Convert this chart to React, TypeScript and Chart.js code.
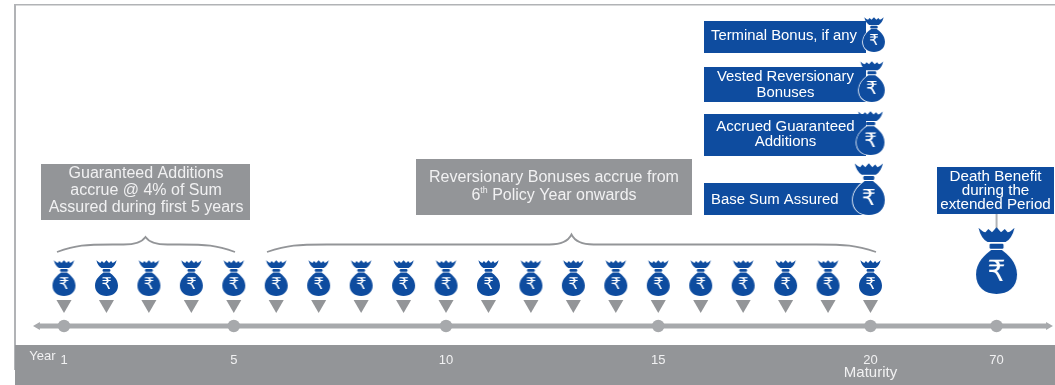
import React, { useEffect, useRef } from "react";
import { Chart, registerables } from "chart.js";

Chart.register(...registerables);

// ---- Plan data ----
const bagYears = [1, 2, 3, 4, 5, 6, 7, 8, 9, 10, 11, 12, 13, 14, 15, 16, 17, 18, 19, 20];
const markedYears = [1, 5, 10, 15, 20, 70];
// Year 70 sits on a broken stretch of the axis, just past the last policy year.
const extendedSlot = 22.97;
const slotOfYear = (year: number) => (year === 70 ? extendedSlot : year);

const guaranteedNote = ["Guaranteed Additions", "accrue @ 4% of Sum", "Assured during first 5 years"];
const reversionaryNote = ["Reversionary Bonuses accrue from", "6^th Policy Year onwards"];
const terminalNote = ["Terminal Bonus, if any"];
const vestedNote = ["Vested Reversionary", "Bonuses"];
const accruedNote = ["Accrued Guaranteed", "Additions"];
const baseNote = ["Base Sum Assured"];
const deathNote = ["Death Benefit", "during the", "extended Period"];
const yearCaption = ["Year"];
const maturityCaption = ["Maturity"];

// ---- Palette and fonts ----
const BLUE = "#0e4c9f";
const GREY = "#939598";
const LIGHT = "#a7a9ac";
const PALE = "#f1f1f2";
const FAMILY = '"Liberation Sans", Arial, sans-serif';

// ---- Scale set-up: one x unit is one policy year ----
const YEAR_STEP = 42.447;
const X_MIN = 1 - 64 / YEAR_STEP;
const X_MAX = X_MIN + 1055 / YEAR_STEP;

// Money bag sprite used as a point style.
function makeBag(width: number, height: number, outlined: boolean, glyphScale = 0.7) {
  const pad = 2;
  const c = document.createElement("canvas");
  c.width = width + pad * 2;
  c.height = height + pad * 2;
  const g = c.getContext("2d")!;
  const X = (u: number) => pad + u * width;
  const Y = (v: number) => pad + v * height;

  const body = new Path2D();
  body.moveTo(X(0.37), Y(0.345));
  body.lineTo(X(0.63), Y(0.345));
  body.bezierCurveTo(X(0.76), Y(0.41), X(1), Y(0.52), X(1), Y(0.71));
  body.bezierCurveTo(X(1), Y(0.9), X(0.78), Y(1), X(0.5), Y(1));
  body.bezierCurveTo(X(0.22), Y(1), X(0), Y(0.9), X(0), Y(0.71));
  body.bezierCurveTo(X(0), Y(0.52), X(0.24), Y(0.41), X(0.37), Y(0.345));
  body.closePath();

  g.fillStyle = BLUE;
  if (outlined) {
    g.strokeStyle = "#ffffff";
    g.lineWidth = 1.6;
    g.stroke(body);
  }
  g.fill(body);

  // Crown knot above the bag
  g.beginPath();
  g.moveTo(X(0.06), Y(0.01));
  g.quadraticCurveTo(X(0.16), Y(0.07), X(0.23), Y(0.08));
  g.lineTo(X(0.3), Y(0.03));
  g.lineTo(X(0.39), Y(0.08));
  g.lineTo(X(0.5), Y(0.005));
  g.lineTo(X(0.61), Y(0.08));
  g.lineTo(X(0.7), Y(0.03));
  g.lineTo(X(0.77), Y(0.08));
  g.quadraticCurveTo(X(0.84), Y(0.07), X(0.94), Y(0.01));
  g.quadraticCurveTo(X(0.88), Y(0.17), X(0.72), Y(0.225));
  g.lineTo(X(0.28), Y(0.225));
  g.quadraticCurveTo(X(0.12), Y(0.17), X(0.06), Y(0.01));
  g.closePath();
  g.fill();

  // Tie around the neck
  g.beginPath();
  g.roundRect(X(0.33), Y(0.25), 0.34 * width, Math.max(2.4, 0.075 * height), 1.2);
  g.fill();

  g.fillStyle = "#ffffff";
  g.font = `${Math.round(width * glyphScale)}px "DejaVu Sans"`;
  g.textAlign = "center";
  g.textBaseline = "middle";
  g.fillText("\u20B9", X(0.5), Y(0.69));
  return c;
}

type Box = { l: number; t: number; r: number; b: number; fill: string };
const boxes: Box[] = [
  { l: 41, t: 164, r: 250, b: 220, fill: GREY },
  { l: 416, t: 159, r: 692, b: 215, fill: GREY },
  { l: 704, t: 21, r: 866, b: 53, fill: BLUE },
  { l: 704, t: 67, r: 866, b: 102, fill: BLUE },
  { l: 704, t: 114, r: 866, b: 156, fill: BLUE },
  { l: 704, t: 183, r: 866, b: 215, fill: BLUE },
  { l: 937, t: 167, r: 1054, b: 214, fill: BLUE },
];

type Caption = { lines: string[]; x: number; ys: number[]; color: string; size: number; align: CanvasTextAlign };
const captions: Caption[] = [
  { lines: guaranteedNote, x: 146, ys: [173.5, 190.5, 207.5], color: PALE, size: 16, align: "center" },
  { lines: reversionaryNote, x: 554, ys: [178, 196], color: PALE, size: 16, align: "center" },
  { lines: terminalNote, x: 711, ys: [36], color: "#fff", size: 14.85, align: "left" },
  { lines: vestedNote, x: 785.5, ys: [77, 93], color: "#fff", size: 14.85, align: "center" },
  { lines: accruedNote, x: 785.5, ys: [127, 142], color: "#fff", size: 15, align: "center" },
  { lines: baseNote, x: 711, ys: [200], color: "#fff", size: 14.9, align: "left" },
  { lines: deathNote, x: 995.5, ys: [177, 191, 205], color: "#fff", size: 15.2, align: "center" },
  { lines: yearCaption, x: 42.5, ys: [356.5], color: PALE, size: 13, align: "center" },
  { lines: maturityCaption, x: 870.5, ys: [373], color: PALE, size: 15, align: "center" },
];

// Writes a line, raising any ^-marked suffix as a superscript.
function writeLine(ctx: CanvasRenderingContext2D, text: string, cap: Caption, y: number) {
  const font = `${cap.size}px ${FAMILY}`;
  const smallFont = `${cap.size * 0.55}px ${FAMILY}`;
  const m = text.match(/^(.*?)\^(\w+)(.*)$/);
  if (!m) {
    ctx.font = font;
    ctx.textAlign = cap.align;
    ctx.fillText(text, cap.x, y);
    return;
  }
  ctx.font = font;
  const a = ctx.measureText(m[1]).width;
  const c = ctx.measureText(m[3]).width;
  ctx.font = smallFont;
  const b = ctx.measureText(m[2]).width;
  let x = cap.x - (a + b + c) / 2;
  ctx.textAlign = "left";
  ctx.font = font;
  ctx.fillText(m[1], x, y);
  x += a;
  ctx.font = smallFont;
  ctx.fillText(m[2], x, y - cap.size * 0.32);
  x += b;
  ctx.font = font;
  ctx.fillText(m[3], x, y);
}

// Curly brace spanning two points on the x axis, peak above the middle.
function brace(ctx: CanvasRenderingContext2D, x0: number, x1: number, peakX: number, foot: number, shoulder: number, peak: number) {
  const bend = Math.min(60, (x1 - x0) / 3.2);
  ctx.beginPath();
  ctx.moveTo(x0, foot);
  ctx.bezierCurveTo(x0 + bend * 0.35, shoulder + 0.5, x0 + bend * 0.5, shoulder, x0 + bend, shoulder);
  ctx.lineTo(peakX - 22, shoulder);
  ctx.quadraticCurveTo(peakX - 5, shoulder, peakX, peak);
  ctx.quadraticCurveTo(peakX + 5, shoulder, peakX + 22, shoulder);
  ctx.lineTo(x1 - bend, shoulder);
  ctx.bezierCurveTo(x1 - bend * 0.5, shoulder, x1 - bend * 0.35, shoulder + 0.5, x1, foot);
  ctx.stroke();
}

const panelPlugin = {
  id: "panel",
  // The frame and footer band go down first so the axis labels stay on top.
  beforeDraw(chart: any) {
    const ctx: CanvasRenderingContext2D = chart.ctx;
    const { width, height, chartArea } = chart;
    ctx.save();
    ctx.fillStyle = "#b1b3b6";
    ctx.fillRect(15, 4, width - 15, 1.5);
    ctx.fillRect(14, 4, 2, 366);
    ctx.fillStyle = GREY;
    ctx.fillRect(15, chartArea.bottom, width - 15, height - chartArea.bottom);
    ctx.restore();
  },
  beforeDatasetsDraw(chart: any) {
    const ctx: CanvasRenderingContext2D = chart.ctx;
    const xs = chart.scales.x;
    ctx.save();
    for (const b of boxes) {
      ctx.fillStyle = b.fill;
      ctx.fillRect(b.l, b.t, b.r - b.l, b.b - b.t);
    }
    // Connector from the death benefit note down to its bag
    ctx.fillStyle = "#b1b3b6";
    ctx.fillRect(xs.getPixelForValue(extendedSlot) - 1, 214, 2, 15);
    // Braces over the two accrual periods
    ctx.strokeStyle = GREY;
    ctx.lineWidth = 1.8;
    brace(ctx, 57, 235, 145.5, 252, 244.5, 237);
    brace(ctx, 267, 876, 571.5, 252, 244.5, 234.5);
    ctx.restore();
  },
  afterDatasetsDraw(chart: any) {
    const ctx: CanvasRenderingContext2D = chart.ctx;
    ctx.save();
    ctx.textBaseline = "middle";
    for (const cap of captions) {
      ctx.fillStyle = cap.color;
      cap.lines.forEach((line, i) => writeLine(ctx, line, cap, cap.ys[i]));
    }
    ctx.restore();
  },
};

export default function App() {
  const ref = useRef<HTMLCanvasElement>(null);

  useEffect(() => {
    const bagLevel = 67;
    const markerLevel = 40.7;
    const axisLevel = 19;

    const smallBag = makeBag(23, 36, false);
    const largeBag = makeBag(41, 67, false);
    const stackBags = [
      makeBag(22, 35, true),
      makeBag(26, 41, true),
      makeBag(28, 44, true),
      makeBag(32, 52, true),
    ];
    const stackPoints = [
      { x: 20.08, y: 310.5 },
      { x: 20.03, y: 263.5 },
      { x: 20.0, y: 212 },
      { x: 19.96, y: 156 },
    ];

    const chart = new Chart(ref.current!, {
      type: "scatter",
      data: {
        datasets: [
          {
            label: "Timeline",
            data: [{ x: 0.39, y: axisLevel }, { x: 24.15, y: axisLevel }],
            showLine: true,
            borderColor: LIGHT,
            borderWidth: 5,
            pointRadius: 0,
            order: 9,
          },
          {
            label: "Marked years",
            data: markedYears.map((y) => ({ x: slotOfYear(y), y: axisLevel })),
            backgroundColor: LIGHT,
            borderWidth: 0,
            pointRadius: 6.2,
            order: 8,
          },
          {
            label: "Arrow heads",
            data: [{ x: 0.378, y: axisLevel }, { x: 24.19, y: axisLevel }],
            backgroundColor: LIGHT,
            borderWidth: 0,
            pointStyle: "triangle",
            pointRadius: 4.6,
            rotation: (c: any) => (c.dataIndex === 0 ? -90 : 90),
            order: 7,
          },
          {
            label: "Yearly additions",
            data: bagYears.map((y) => ({ x: y, y: markerLevel })),
            backgroundColor: GREY,
            borderWidth: 0,
            pointStyle: "triangle",
            pointRadius: 8.7,
            rotation: 180,
            order: 6,
          },
          {
            label: "Yearly bags",
            data: bagYears.map((y) => ({ x: y, y: bagLevel })),
            pointStyle: smallBag,
            pointRadius: 10,
            order: 5,
          },
          {
            label: "Maturity payouts",
            data: stackPoints,
            pointStyle: stackBags,
            pointRadius: 10,
            order: 4,
          },
          {
            label: "Death benefit",
            data: [{ x: extendedSlot, y: 84.5 }],
            pointStyle: largeBag,
            pointRadius: 10,
            order: 3,
          },
        ] as any,
      },
      options: {
        responsive: false,
        animation: false,
        events: [],
        layout: { padding: 0, autoPadding: false },
        plugins: { legend: { display: false }, tooltip: { enabled: false } },
        scales: {
          x: {
            type: "linear",
            min: X_MIN,
            max: X_MAX,
            grid: { display: false },
            border: { display: false },
            afterBuildTicks: (scale: any) => {
              scale.ticks = markedYears.map((y) => ({ value: slotOfYear(y) }));
            },
            afterFit: (scale: any) => {
              scale.height = 40;
            },
            ticks: {
              autoSkip: false,
              maxRotation: 0,
              padding: 0,
              color: PALE,
              font: { family: FAMILY, size: 13 },
              callback: (v: any) => (v === extendedSlot ? "70" : String(v)),
            },
          },
          y: { type: "linear", display: false, min: 0, max: 345 },
        },
      } as any,
      plugins: [panelPlugin],
    });
    return () => chart.destroy();
  }, []);

  return (
    <canvas
      ref={ref}
      width={1055}
      height={385}
      style={{ position: "absolute", left: 0, top: 0, display: "block" }}
    />
  );
}
